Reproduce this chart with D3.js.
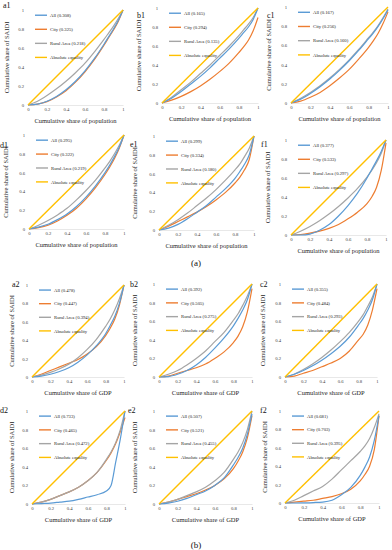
<!DOCTYPE html>
<html><head><meta charset="utf-8">
<script src="https://cdn.jsdelivr.net/npm/d3@7"></script>
<style>html,body{margin:0;padding:0;background:#fff;}svg{display:block;font-family:"Liberation Serif","Times New Roman",serif;}</style>
</head><body>
<script>
// shared x grid (cumulative share of population / GDP)
const xs = [0,0.1,0.2,0.3,0.4,0.5,0.6,0.7,0.8,0.85,0.9,0.95,1];
const ticks = [0,0.2,0.4,0.6,0.8,1];
const tickLabels = ["0","0.2","0.4","0.6","0.8","1"];
const seriesNames = ["All","City","Rural Area"];

// Gini values per panel [All, City, Rural]
const gini_a1=[0.308,0.325,0.218], gini_b1=[0.165,0.294,0.135], gini_c1=[0.167,0.256,0.160];
const gini_d1=[0.295,0.322,0.219], gini_e1=[0.299,0.334,0.180], gini_f1=[0.377,0.533,0.297];
const gini_a2=[0.478,0.447,0.394], gini_b2=[0.392,0.505,0.275], gini_c2=[0.355,0.484,0.293];
const gini_d2=[0.733,0.465,0.472], gini_e2=[0.507,0.521,0.455], gini_f2=[0.681,0.703,0.395];

// Lorenz curve values (cumulative share of SAIDI)
const a1All  =[0,0.01,0.04,0.09,0.16,0.25,0.36,0.49,0.64,0.72,0.80,0.89,1];
const a1City =[0,0.01,0.035,0.085,0.15,0.24,0.35,0.48,0.63,0.71,0.79,0.88,1];
const a1Rural=[0,0.04,0.10,0.17,0.25,0.34,0.44,0.56,0.69,0.76,0.83,0.91,1];
const b1All  =[0,0.05,0.12,0.20,0.28,0.37,0.47,0.57,0.68,0.74,0.80,0.88,1];
const b1City =[0,0.03,0.07,0.12,0.18,0.25,0.33,0.42,0.53,0.59,0.66,0.76,0.90];
const b1Rural=[0,0.06,0.14,0.22,0.31,0.40,0.50,0.60,0.71,0.77,0.83,0.90,1];
const c1All  =[0,0.04,0.10,0.17,0.25,0.34,0.44,0.55,0.67,0.73,0.80,0.88,0.97];
const c1City =[0,0.02,0.06,0.11,0.18,0.26,0.35,0.46,0.58,0.65,0.73,0.83,0.95];
const c1Rural=[0,0.05,0.11,0.18,0.26,0.35,0.45,0.56,0.68,0.74,0.81,0.89,0.98];
const d1All  =[0,0.02,0.05,0.10,0.16,0.24,0.34,0.46,0.60,0.68,0.77,0.87,1];
const d1City =[0,0.015,0.04,0.085,0.145,0.22,0.32,0.44,0.58,0.66,0.75,0.86,1];
const d1Rural=[0,0.04,0.09,0.15,0.22,0.31,0.41,0.52,0.65,0.72,0.80,0.89,1];
const e1All  =[0,0.02,0.06,0.12,0.19,0.26,0.35,0.44,0.55,0.62,0.70,0.80,1];
const e1City =[0,0.04,0.09,0.14,0.19,0.25,0.32,0.40,0.50,0.56,0.64,0.75,1];
const e1Rural=[0,0.05,0.11,0.18,0.26,0.34,0.43,0.53,0.64,0.70,0.78,0.87,1];
const f1All  =[0,0,0.01,0.05,0.11,0.20,0.31,0.44,0.60,0.69,0.78,0.88,1];
const f1City =[0,0.005,0.02,0.04,0.07,0.11,0.17,0.24,0.33,0.40,0.50,0.68,0.97];
const f1Rural=[0,0.04,0.09,0.15,0.22,0.30,0.39,0.49,0.61,0.68,0.76,0.86,1];
const a2All  =[0,0.01,0.03,0.06,0.10,0.16,0.24,0.34,0.47,0.56,0.66,0.80,1];
const a2City =[0,0.03,0.07,0.11,0.15,0.19,0.25,0.33,0.45,0.53,0.63,0.78,1];
const a2Rural=[0,0.02,0.05,0.09,0.14,0.21,0.30,0.41,0.55,0.63,0.73,0.85,1];
const b2All  =[0,0.005,0.03,0.07,0.13,0.21,0.31,0.42,0.55,0.63,0.72,0.83,1];
const b2City =[0,0.01,0.04,0.07,0.10,0.14,0.20,0.27,0.37,0.44,0.54,0.70,0.95];
const b2Rural=[0,0.03,0.07,0.13,0.20,0.28,0.38,0.48,0.61,0.68,0.77,0.87,1];
const c2All  =[0,0.03,0.07,0.12,0.18,0.25,0.33,0.43,0.56,0.63,0.72,0.83,1];
const c2City =[0,0.01,0.04,0.07,0.11,0.15,0.20,0.28,0.40,0.46,0.56,0.72,0.95];
const c2Rural=[0,0.03,0.08,0.14,0.21,0.29,0.38,0.48,0.60,0.67,0.76,0.86,1];
const d2All  =[0,0.005,0.01,0.02,0.03,0.05,0.075,0.10,0.14,0.20,0.45,0.70,1];
const d2City =[0,0.02,0.05,0.09,0.13,0.18,0.25,0.34,0.47,0.55,0.65,0.78,0.93];
const d2Rural=[0,0.02,0.05,0.09,0.13,0.18,0.25,0.34,0.48,0.56,0.66,0.80,1];
const e2All  =[0,0.01,0.03,0.06,0.10,0.14,0.20,0.28,0.42,0.50,0.60,0.75,0.97];
const e2City =[0,0.02,0.05,0.08,0.11,0.15,0.20,0.27,0.38,0.46,0.56,0.71,0.95];
const e2Rural=[0,0.02,0.05,0.09,0.13,0.18,0.25,0.34,0.48,0.56,0.66,0.80,1];
const f2All  =[0,0,0.002,0.005,0.01,0.03,0.09,0.17,0.30,0.39,0.50,0.68,0.95];
const f2City =[0,0.01,0.02,0.03,0.05,0.07,0.10,0.15,0.24,0.31,0.40,0.58,0.95];
const f2Rural=[0,0.03,0.08,0.13,0.18,0.26,0.36,0.46,0.56,0.62,0.70,0.82,0.97];

const panels = [
 {id:"a1", xt:"population", g:gini_a1, all:a1All, city:a1City, rural:a1Rural},
 {id:"b1", xt:"population", g:gini_b1, all:b1All, city:b1City, rural:b1Rural},
 {id:"c1", xt:"population", g:gini_c1, all:c1All, city:c1City, rural:c1Rural},
 {id:"d1", xt:"population", g:gini_d1, all:d1All, city:d1City, rural:d1Rural},
 {id:"e1", xt:"population", g:gini_e1, all:e1All, city:e1City, rural:e1Rural},
 {id:"f1", xt:"population", g:gini_f1, all:f1All, city:f1City, rural:f1Rural},
 {id:"a2", xt:"GDP", g:gini_a2, all:a2All, city:a2City, rural:a2Rural},
 {id:"b2", xt:"GDP", g:gini_b2, all:b2All, city:b2City, rural:b2Rural},
 {id:"c2", xt:"GDP", g:gini_c2, all:c2All, city:c2City, rural:c2Rural},
 {id:"d2", xt:"GDP", g:gini_d2, all:d2All, city:d2City, rural:d2Rural},
 {id:"e2", xt:"GDP", g:gini_e2, all:e2All, city:e2City, rural:e2Rural},
 {id:"f2", xt:"GDP", g:gini_f2, all:f2All, city:f2City, rural:f2Rural}
];

// layout (pixel boxes of the plot areas, label and title positions)
const layout = {
 a1:{l:28,r:123,t:10,b:105,lx:3,ly:8,ytx:7},
 b1:{l:162,r:258,t:8,b:103,lx:137,ly:18,ytx:139},
 c1:{l:291,r:388,t:7,b:103,lx:267,ly:18,ytx:269},
 d1:{l:29,r:124,t:135,b:229,lx:0,ly:148,ytx:6},
 e1:{l:159,r:254,t:136,b:230,lx:130,ly:147,ytx:135},
 f1:{l:291,r:386,t:140,b:235,lx:261,ly:147,ytx:268},
 a2:{l:32,r:124,t:285,b:377,lx:12,ly:287,ytx:12},
 b2:{l:159,r:252,t:284,b:377,lx:130,ly:287,ytx:135},
 c2:{l:285,r:377,t:284,b:377,lx:260,ly:287,ytx:263},
 d2:{l:32,r:125,t:411,b:504,lx:0,ly:413,ytx:12},
 e2:{l:159,r:252,t:411,b:504,lx:128,ly:413,ytx:135},
 f2:{l:285,r:379,t:411,b:503,lx:260,ly:413,ytx:265}
};

const colors = {all:"#5B9BD5", city:"#ED7D31", rural:"#A5A5A5", eq:"#FFC000"};

const svg = d3.select("body").append("svg").attr("width",392).attr("height",550);

panels.forEach(p => {
  const L = layout[p.id];
  const x = d3.scaleLinear().domain([0,1]).range([L.l,L.r]);
  const y = d3.scaleLinear().domain([0,1]).range([L.b,L.t]);
  const g = svg.append("g");

  const xa = g.append("g").attr("transform",`translate(0,${L.b})`)
    .call(d3.axisBottom(x).tickValues(ticks).tickFormat((d,i)=>tickLabels[i]).tickSize(0).tickPadding(3));
  xa.select(".domain").attr("stroke","#d9d9d9").attr("stroke-width",0.6);
  xa.selectAll("text").attr("font-size",4.7).attr("fill","#404040").attr("font-family","Liberation Serif");
  const ya = g.append("g").attr("transform",`translate(${L.l},0)`)
    .call(d3.axisLeft(y).tickValues(ticks).tickFormat((d,i)=>tickLabels[i]).tickSize(0).tickPadding(4));
  ya.select(".domain").remove();
  ya.selectAll("text").attr("font-size",4.7).attr("fill","#404040").attr("font-family","Liberation Serif");

  g.append("text").attr("x",(L.l+L.r)/2).attr("y",L.b+18).attr("text-anchor","middle")
    .attr("font-size",6.5).attr("fill","#262626").text("Cumulative share of "+p.xt);
  g.append("text").attr("transform",`translate(${L.ytx+2},${(L.t+L.b)/2}) rotate(-90)`)
    .attr("text-anchor","middle").attr("font-size",6.5).attr("fill","#262626").text("Cumulative share of SAIDI");
  g.append("text").attr("x",L.lx).attr("y",L.ly).attr("font-size",8).attr("fill","#111").text(p.id);

  const line = d3.line().x((d,i)=>x(xs[i])).y(d=>y(d)).curve(d3.curveMonotoneX);
  [["city",p.city],["rural",p.rural],["all",p.all]].forEach(([k,arr])=>{
    g.append("path").attr("d",line(arr)).attr("fill","none").attr("stroke",colors[k]).attr("stroke-width",1.2);
  });
  g.append("path").attr("d",d3.line()([[x(0),y(0)],[x(1),y(1)]])).attr("stroke",colors.eq).attr("stroke-width",1.4).attr("fill","none");

  const labels = [seriesNames[0]+" ("+p.g[0].toFixed(3)+")", seriesNames[1]+" ("+p.g[1].toFixed(3)+")",
                  seriesNames[2]+" ("+p.g[2].toFixed(3)+")", "Absolute equality"];
  const keys = ["all","city","rural","eq"];
  const h = L.b - L.t;
  keys.forEach((k,i)=>{
    const yy = L.t + h*0.055 + i*h*0.148;
    g.append("line").attr("x1",L.l+7).attr("x2",L.l+19).attr("y1",yy).attr("y2",yy)
      .attr("stroke",colors[k]).attr("stroke-width",1.4);
    g.append("text").attr("x",L.l+22).attr("y",yy).attr("dy","0.35em").attr("font-size",4.7)
      .attr("fill","#262626").text(labels[i]);
  });
});

svg.append("text").attr("x",196).attr("y",266).attr("text-anchor","middle").attr("font-size",9).attr("fill","#111").text("(a)");
svg.append("text").attr("x",196).attr("y",548).attr("text-anchor","middle").attr("font-size",9).attr("fill","#111").text("(b)");
</script>
</body></html>
